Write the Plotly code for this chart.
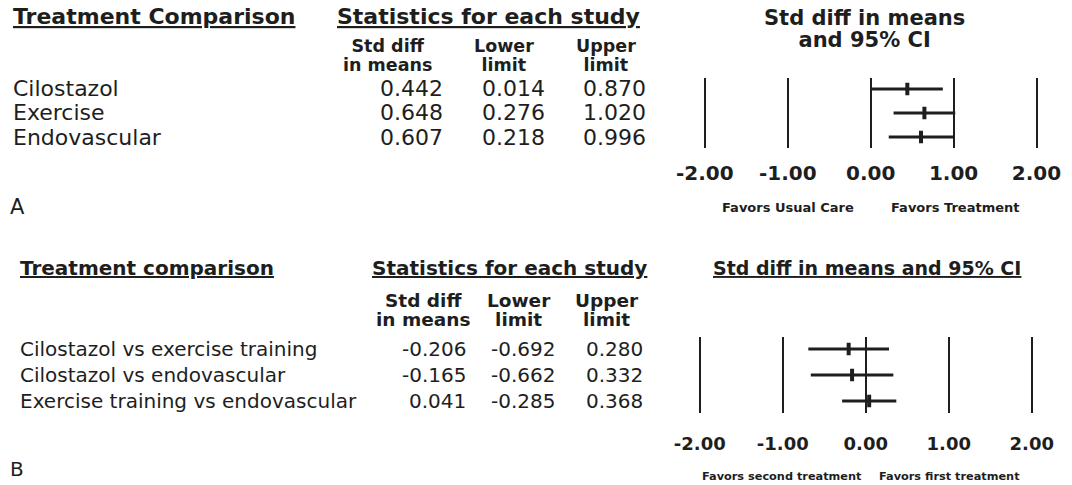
import plotly.graph_objects as go

W, H = 1072, 485

# ---- data ----
a_labels = ["Cilostazol", "Exercise", "Endovascular"]
a_mean = [0.442, 0.648, 0.607]
a_lower = [0.014, 0.276, 0.218]
a_upper = [0.870, 1.020, 0.996]

b_labels = ["Cilostazol vs exercise training", "Cilostazol vs endovascular",
            "Exercise training vs endovascular"]
b_mean = [-0.206, -0.165, 0.041]
b_lower = [-0.692, -0.662, -0.285]
b_upper = [0.280, 0.332, 0.368]

tick_vals = [-2, -1, 0, 1, 2]
tick_text = ["-2.00", "-1.00", "0.00", "1.00", "2.00"]

INK = "#1e1e1e"
FONT = "DejaVu Sans"
LEFT_FIX = 14  # left-anchored annotations render shifted right by this much

fig = go.Figure()


def add_forest(mean, lower, upper, xa, ya):
    rows = list(range(1, len(mean) + 1))
    fig.add_trace(go.Scatter(
        x=mean, y=rows, mode="markers", xaxis=xa, yaxis=ya,
        marker=dict(symbol="line-ns", size=9, line=dict(width=4, color=INK), color=INK),
        error_x=dict(type="data", symmetric=False,
                     array=[u - m for u, m in zip(upper, mean)],
                     arrayminus=[m - l for m, l in zip(mean, lower)],
                     width=0, thickness=2.8, color=INK),
        showlegend=False, hoverinfo="skip"))


add_forest(a_mean, a_lower, a_upper, "x", "y")
add_forest(b_mean, b_lower, b_upper, "x2", "y2")

ann = []


def px(x):
    return x / W


def py(y):
    return 1 - y / H


def txt(s, x, y, size=20, bold=False, anchor="left", underline=False, yref="paper"):
    if anchor == "left":
        x -= LEFT_FIX
    ann.append(dict(
        text=s, x=px(x), xref="paper",
        y=(py(y) if yref == "paper" else y), yref=yref,
        xanchor=anchor, yanchor="middle", align=anchor, showarrow=False,
        font=dict(family=FONT, size=size, color=INK,
                  weight="bold" if bold else "normal",
                  lineposition="under" if underline else "none")))


def two_line(l1, l2, x, y, glyph, spacing, bold=True):
    # base font size sets line spacing (1.3 em); glyph size set via span
    base = spacing / 1.3
    s = (f'<span style="font-size:{glyph}px">{l1}</span><br>'
         f'<span style="font-size:{glyph}px">{l2}</span>')
    txt(s, x, y, size=base, bold=bold, anchor="center")


# ---- panel A ----
txt("Treatment Comparison", 13, 17, size=22, bold=True, underline=True)
txt("Statistics for each study", 486, 17, size=22, bold=True, underline=True, anchor="center")
for cx, l1, l2 in [(383, "Std diff", "in means"), (501, "Lower", "limit"), (605, "Upper", "limit")]:
    two_line(l1, l2, cx, 55, 17.5, 19)
for i, lab in enumerate(a_labels):
    r = i + 1
    txt(lab, 13, r, size=22, yref="y")
    txt(f"{a_mean[i]:.3f}", 441, r, size=22, anchor="right", yref="y")
    txt(f"{a_lower[i]:.3f}", 545, r, size=22, anchor="right", yref="y")
    txt(f"{a_upper[i]:.3f}", 648, r, size=22, anchor="right", yref="y")
two_line("Std diff in means", "and 95% CI", 869, 29, 21, 22)
txt("Favors Usual Care", 791, 207, size=13, bold=True, anchor="center")
txt("Favors Treatment", 961, 207, size=13, bold=True, anchor="center")
txt("A", 10, 207, size=21)

# ---- panel B ----
txt("Treatment comparison", 20, 268, bold=True, underline=True)
txt("Statistics for each study", 507, 268, bold=True, underline=True, anchor="center")
for cx, l1, l2 in [(419, "Std diff", "in means"), (517, "Lower", "limit"), (606, "Upper", "limit")]:
    two_line(l1, l2, cx, 309.5, 18.5, 19)
for i, lab in enumerate(b_labels):
    r = i + 1
    txt(lab, 20, r, yref="y2")
    txt(f"{b_mean[i]:.3f}", 465, r, anchor="right", yref="y2")
    txt(f"{b_lower[i]:.3f}", 555, r, anchor="right", yref="y2")
    txt(f"{b_upper[i]:.3f}", 645, r, anchor="right", yref="y2")
txt("Std diff in means and 95% CI", 871, 268, size=19, bold=True, underline=True, anchor="center")
txt("Favors second treatment", 785, 476, size=11.3, bold=True, anchor="center")
txt("Favors first treatment", 955, 476, size=11.3, bold=True, anchor="center")
txt("B", 10, 469, size=20)

xcommon = dict(range=[-2.2, 2.2], tickvals=tick_vals, ticktext=tick_text,
               showgrid=True, gridcolor=INK, gridwidth=2, zeroline=False,
               showline=False, ticks="", fixedrange=True)

fig.update_layout(
    width=W, height=H, margin=dict(l=0, r=0, t=0, b=0),
    paper_bgcolor="white", plot_bgcolor="white",
    xaxis=dict(domain=[689.1 / W, 1060.9 / W], anchor="y", ticklabelstandoff=11,
               tickfont=dict(family=FONT, size=20, color=INK, weight="bold"), **xcommon),
    yaxis=dict(domain=[py(148), py(78)], range=[3.458, 0.542], visible=False,
               showgrid=False, fixedrange=True),
    xaxis2=dict(domain=[683.9 / W, 1056.1 / W], anchor="y2", ticklabelstandoff=18,
                tickfont=dict(family=FONT, size=18, color=INK, weight="bold"), **xcommon),
    yaxis2=dict(domain=[py(413), py(337)], range=[3.4615, 0.5385], visible=False,
                showgrid=False, fixedrange=True),
    annotations=ann,
)

fig.write_html("out.html", config={"displayModeBar": False},
               post_script="document.body.style.margin='0';document.body.style.overflow='hidden';")
